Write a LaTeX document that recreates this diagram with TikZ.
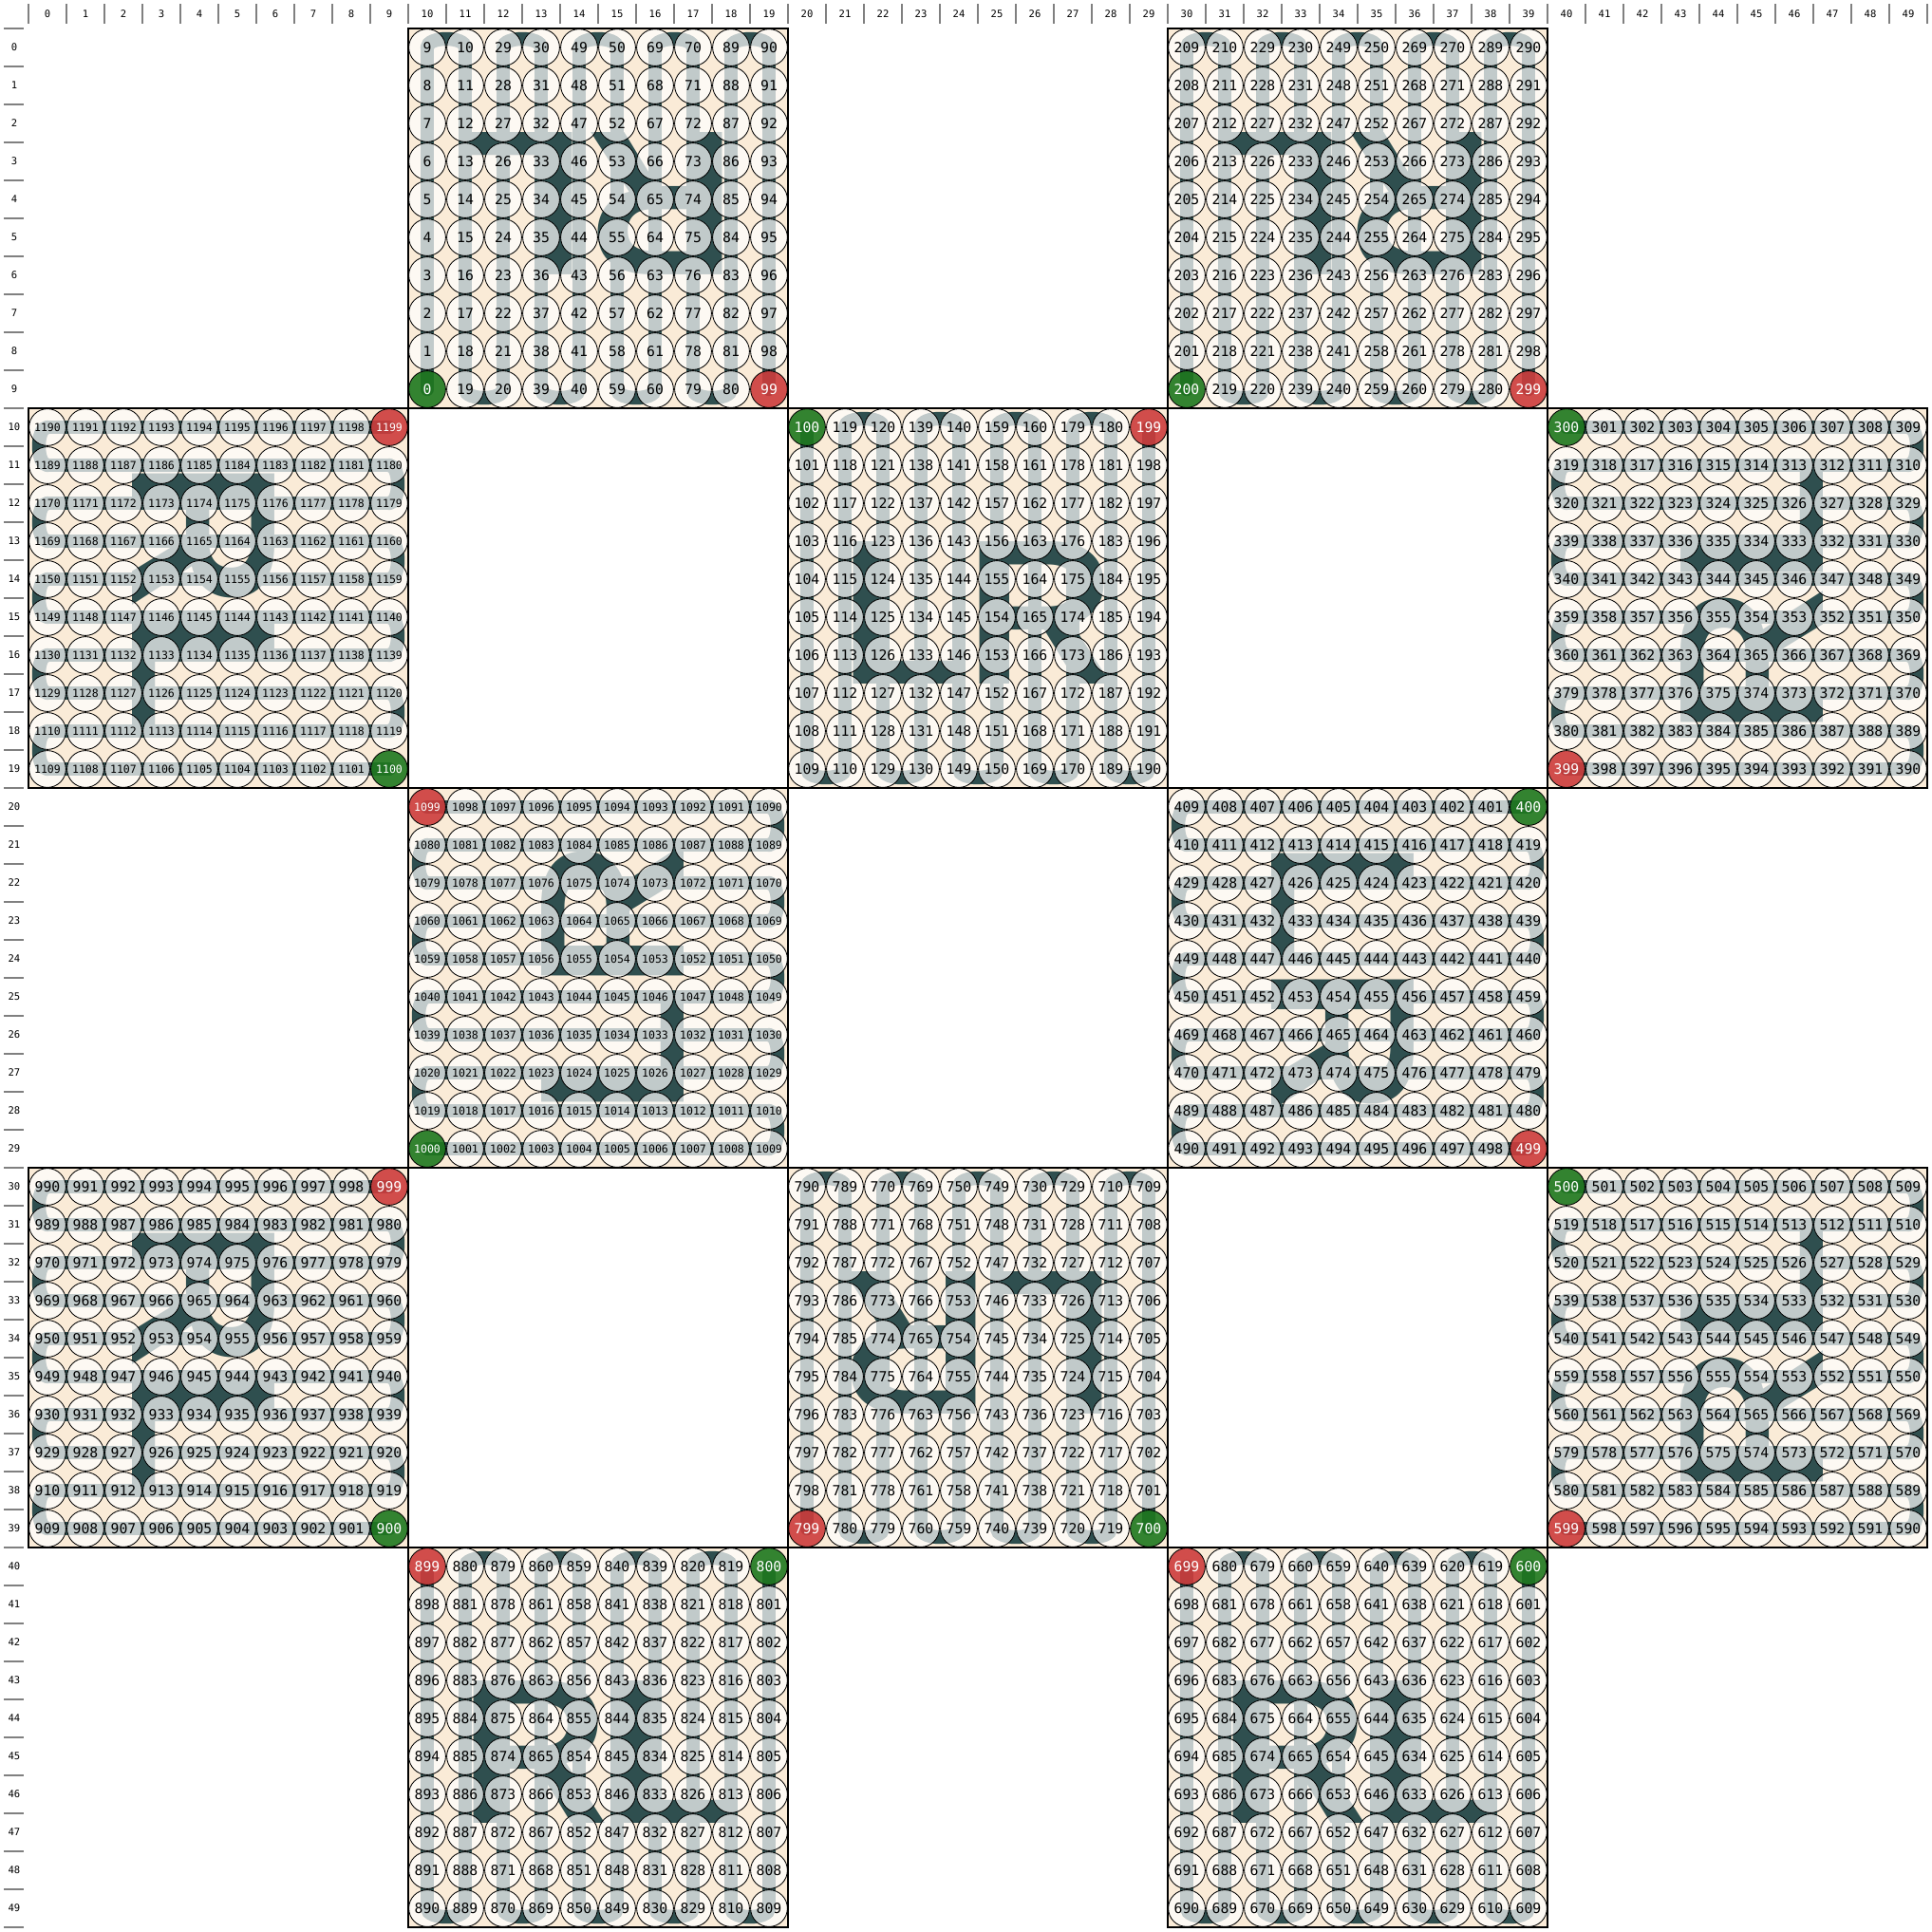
\documentclass[tikz,border=0pt]{standalone}
\usepackage{xcolor}
\usepackage{fontspec}
\usepackage{tikz}
\usetikzlibrary{calc}
\newfontfamily\monofam{DejaVu Sans Mono}
\newfontfamily\glyphfam{Liberation Sans}
\newcommand{\cellfont}{\monofam\fontsize{10.5pt}{12pt}\selectfont}
\newcommand{\cellfontsmall}{\monofam\fontsize{8.2pt}{10pt}\selectfont}
\newcommand{\labfont}{\monofam\fontsize{7.5pt}{9pt}\selectfont}
\newcommand{\bigfont}{\glyphfam\bfseries\fontsize{155pt}{160pt}\selectfont}
\definecolor{slate}{RGB}{47,79,79}
\definecolor{antique}{RGB}{250,235,215}
\definecolor{startgreen}{RGB}{30,120,30}
\definecolor{stopred}{RGB}{205,60,60}
\definecolor{tickgray}{RGB}{128,128,128}
\pgfdeclarelayer{back}
\pgfdeclarelayer{mid}
\pgfsetlayers{back,mid,main}

\begin{document}
\begin{tikzpicture}

    \tikzset{
      cell/.style = {circle, draw=black, line width=0.6pt, fill=white, fill opacity=0.7,
                     text opacity=1, minimum size=0.97cm, inner sep=0pt, font=\cellfont},
      start/.style = {cell, fill=startgreen, fill opacity=0.9, text=white},
      stop/.style = {cell, fill=stopred, fill opacity=0.9, text=white},
      trail/.style = {draw=slate, line width=0.36cm, line cap=round},
      glyph/.style = {text=slate, font=\bigfont, inner sep=0pt},
      block/.style = {draw=black, line width=1.6pt},
      tick/.style = {draw=tickgray, line width=1.4pt},
      lab/.style = {font=\labfont, inner sep=0pt}}

    \useasboundingbox (-0.75,0.75) rectangle (50.125,-50.125);

    % axes
    \foreach \i in {0,...,50} {
      \draw[tick] (\i,0.65) -- (\i,0.125);
      \draw[tick] (-0.65,-\i) -- (-0.125,-\i);
    }
    \foreach \i in {0,...,49} {
      \node[lab] (top\i) at (\i+0.5,0.375) {\i};
      \node[lab] (side\i) at (-0.375,-\i-0.5) {\i};
    }

    % cells
    \foreach \base/\ro/\co/\isv/\fla/\flp in {0/0/10/1/0/1, 200/0/30/1/0/1, 1100/10/0/0/1/1,
        100/10/20/1/0/0, 300/10/40/0/0/0, 1000/20/10/0/1/0, 400/20/30/0/0/1, 900/30/0/0/1/1,
        700/30/20/1/1/1, 500/30/40/0/0/0, 800/40/10/1/1/0, 600/40/30/1/1/0} {
      \ifnum\base>999 \def\fnt{\cellfontsmall}\else\def\fnt{\cellfont}\fi
      \foreach \k in {0,...,99} {
        \pgfmathtruncatemacro\la{int(\k/10)}
        \pgfmathtruncatemacro\lb{mod(\k,10)}
        \pgfmathtruncatemacro\lp{isodd(\la) ? 9-\lb : \lb}
        \pgfmathtruncatemacro\lL{\fla ? 9-\la : \la}
        \pgfmathtruncatemacro\lP{\flp ? 9-\lp : \lp}
        \pgfmathtruncatemacro\rw{\ro + (\isv ? \lP : \lL)}
        \pgfmathtruncatemacro\cl{\co + (\isv ? \lL : \lP)}
        \pgfmathtruncatemacro\nm{\base+\k}
        \ifnum\k=0 \def\sty{start}\else\ifnum\k=99 \def\sty{stop}\else\def\sty{cell}\fi\fi
        \node[\sty, font=\fnt] (c\nm) at (\cl+0.5,-\rw-0.5) {\nm};
      }
    }

    % letters and trails
    \begin{pgfonlayer}{mid}
      \foreach \base/\ro/\co/\txt/\ang in {0/0/10/RL/180, 200/0/30/RL/180, 1100/10/0/RL/-90,
          100/10/20/LR/0, 300/10/40/RL/90, 1000/20/10/LR/90, 400/20/30/LR/-90, 900/30/0/RL/-90,
          700/30/20/LR/180, 500/30/40/RL/90, 800/40/10/RL/0, 600/40/30/RL/0}
        \node[glyph, rotate=\ang] (lr\base) at ($(\co+5,-\ro-5)+(\ang-90:0.4)$) {\txt};
      \foreach \base in {0,100,...,1100} {
        \foreach \k in {1,...,99} {
          \pgfmathtruncatemacro\cur{\base+\k}
          \pgfmathtruncatemacro\prv{\cur-1}
          \pgfmathtruncatemacro\lm{mod(\k,10)}
          \ifnum\lm=0
            \pgfmathtruncatemacro\pp{\prv-1}
            \pgfmathtruncatemacro\nx{\cur+1}
            \draw[trail] (c\prv.center) .. controls ($(c\prv.center)!-0.3!(c\pp.center)$)
              and ($(c\cur.center)!-0.3!(c\nx.center)$) .. (c\cur.center);
          \else
            \draw[trail] (c\prv.center) -- (c\cur.center);
          \fi
        }
      }
    \end{pgfonlayer}

    % blocks
    \begin{pgfonlayer}{back}
      \foreach \ro/\co in {0/10,0/30,10/0,10/20,10/40,20/10,20/30,30/0,30/20,30/40,40/10,40/30}
        \fill[antique] (\co,-\ro) rectangle (\co+10,-\ro-10);
    \end{pgfonlayer}
    \foreach \ro/\co in {0/10,0/30,10/0,10/20,10/40,20/10,20/30,30/0,30/20,30/40,40/10,40/30}
      \draw[block] (\co,-\ro) rectangle (\co+10,-\ro-10);

\end{tikzpicture}
\end{document}
